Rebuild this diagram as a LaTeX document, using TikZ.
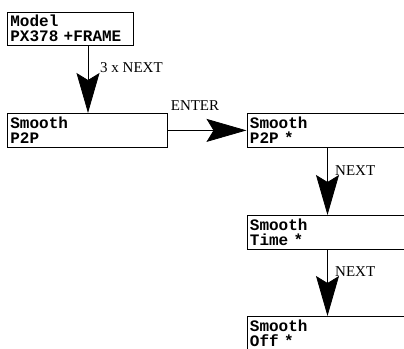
\documentclass[tikz,border=0pt]{standalone}
\usepackage{fontspec}
\setmainfont{Liberation Serif}
\setmonofont{Liberation Mono}
\usetikzlibrary{arrows.meta, positioning}

\begin{document}
\begin{tikzpicture}[
  x=1pt, y=-1pt,
  >={Stealth[length=40pt, width=23pt, inset=7pt]},
  menu/.style={rectangle, draw=black, line width=0.8pt, anchor=north west,
               align=left, text width=#1, inner sep=3pt, minimum height=34pt,
               font=\ttfamily\bfseries\fontsize{16}{15}\selectfont},
  menu/.default=151pt,
  key/.style={font=\fontsize{15}{15}\selectfont, inner sep=0pt},
  flow/.style={->, line width=0.8pt, draw=black},
]
\useasboundingbox (0,0) rectangle (404,348);

% =========================== LEFT : model and smooth menu ===========================
\node[menu=120pt, minimum height=32pt] (model) at (7,12)  {Model\\PX378 +FRAME};
\node[menu=154pt]                      (smp2p) at (7,113) {Smooth\\P2P};

% =========================== RIGHT : smooth sub-menu ===========================
\node[menu] (selp2p)  at (246.5,113) {Smooth\\P2P *};
\node[menu] (seltime) at (246.5,215) {Smooth\\Time *};
\node[menu] (seloff)  at (246.5,316) {Smooth\\Off *};

% drop points of the vertical arrows
\coordinate (dropl) at (88,0);
\coordinate (dropr) at (327.5,0);

\draw[flow] (model.south -| dropl) -- (smp2p.north -| dropl);
\draw[flow] (smp2p.east) -- (selp2p.west);
\foreach \a/\b in {selp2p/seltime, seltime/seloff}
  \draw[flow] (\a.south -| dropr) -- (\b.north -| dropr);

% key labels
\node[key, anchor=west] (knext) at (100,68)  {3 x NEXT};
\node[key]              (kent)  at (195,106) {ENTER};
\node[key, anchor=west] (kn1)   at (335,171) {NEXT};
\node[key, anchor=west] (kn2)   at (335,272) {NEXT};

\end{tikzpicture}
\end{document}
